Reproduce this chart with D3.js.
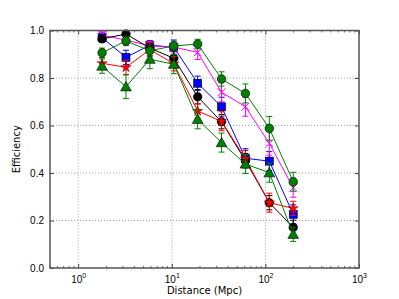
<!DOCTYPE html>
<meta charset="utf-8">
<html>
<style>
  body { margin: 0; background: #fff; font-family: "DejaVu Sans", sans-serif; }
  .grid line { stroke: #888; stroke-dasharray: 1,2; stroke-width: 0.8; }
  .tick text { font-size: 10px; fill: #000; }
</style>
<body>
<div id="plot"></div>
<script src="https://d3js.org/d3.v7.js"></script>
<script>
// distances (Mpc)
const distance = [1.8, 3.24, 5.83, 10.5, 18.9, 34.0, 61.2, 110.2, 198.4];

// efficiency per series
const red_eff     = [0.862, 0.845, 0.920, 0.860, 0.661, 0.618, 0.460, 0.275, 0.251];
const black_eff   = [0.965, 0.985, 0.926, 0.883, 0.721, 0.616, 0.452, 0.275, 0.171];
const blue_eff    = [0.970, 0.887, 0.938, 0.930, 0.778, 0.679, 0.462, 0.450, 0.226];
const magenta_eff = [0.980, 0.960, 0.935, 0.930, 0.908, 0.740, 0.679, 0.525, 0.338];
const tri_eff     = [0.850, 0.763, 0.879, 0.858, 0.626, 0.528, 0.438, 0.401, 0.142];
const circ_eff    = [0.906, 0.956, 0.915, 0.935, 0.943, 0.796, 0.735, 0.588, 0.363];

// error bar half-widths
const red_err     = [0.025, 0.03, 0.03, 0.03, 0.03, 0.04, 0.035, 0.04, 0.03];
const black_err   = [0.01, 0.01, 0.02, 0.03, 0.03, 0.03, 0.03, 0.03, 0.03];
const blue_err    = [0.02, 0.03, 0.02, 0.03, 0.03, 0.04, 0.04, 0.04, 0.04];
const magenta_err = [0.015, 0.02, 0.02, 0.02, 0.03, 0.04, 0.04, 0.05, 0.04];
const tri_err     = [0.03, 0.05, 0.04, 0.04, 0.04, 0.04, 0.04, 0.04, 0.03];
const circ_err    = [0.02, 0.02, 0.02, 0.02, 0.02, 0.03, 0.04, 0.05, 0.04];

const y_ticks = [0.0, 0.2, 0.4, 0.6, 0.8, 1.0];
const x_ticks = [1, 10, 100, 1000];

const series = [
  {colour: "#0000ff", marker: "square", eff: blue_eff, err: blue_err},
  {colour: "#ff00ff", marker: "cross", eff: magenta_eff, err: magenta_err},
  {colour: "#000000", marker: "circle", eff: black_eff, err: black_err},
  {colour: "#ff0000", marker: "star", eff: red_eff, err: red_err},
  {colour: "#008000", marker: "triangle", eff: tri_eff, err: tri_err},
  {colour: "#008000", marker: "circle", eff: circ_eff, err: circ_err}
];

const W = 399, H = 299;
const margin = {top: 30.5, right: 40, bottom: 31, left: 50};
const width = W - margin.left - margin.right,
      height = H - margin.top - margin.bottom;

const svg = d3.select("#plot").append("svg")
  .attr("width", W).attr("height", H)
  .append("g")
  .attr("transform", "translate(" + margin.left + "," + margin.top + ")");

const x = d3.scaleLog().domain([0.5, 1000]).range([0, width]);
const y = d3.scaleLinear().domain([0, 1]).range([height, 0]);

// grid
const grid = svg.append("g").attr("class", "grid");
grid.selectAll(".gx").data(x_ticks.slice(0, 3)).join("line")
  .attr("x1", d => x(d)).attr("x2", d => x(d)).attr("y1", 0).attr("y2", height);
grid.selectAll(".gy").data(y_ticks.slice(1, 5)).join("line")
  .attr("x1", 0).attr("x2", width).attr("y1", d => y(d)).attr("y2", d => y(d));

// minor x ticks
const minor = [];
[0.1, 1, 10, 100].forEach(dec => { for (let k = 2; k <= 9; k++) { const v = dec * k; if (v >= 0.5 && v < 1000) minor.push(v); } });
const tickCol = "#444";
svg.append("g").selectAll("line").data(minor).join("line")
  .attr("x1", d => x(d)).attr("x2", d => x(d)).attr("y1", height).attr("y2", height - 2)
  .attr("stroke", tickCol).attr("stroke-width", 0.8);
svg.append("g").selectAll("line").data(minor).join("line")
  .attr("x1", d => x(d)).attr("x2", d => x(d)).attr("y1", 0).attr("y2", 2)
  .attr("stroke", tickCol).attr("stroke-width", 0.8);

// major ticks (inside, all sides)
const xa = svg.append("g").attr("transform", "translate(0," + height + ")")
  .call(d3.axisBottom(x).tickValues(x_ticks).tickSize(-4).tickFormat(""));
xa.select(".domain").remove();
xa.selectAll("text").remove();
xa.selectAll("line").attr("stroke", tickCol);
xa.selectAll(".tick").append("text")
  .attr("y", 15).attr("text-anchor", "middle").attr("fill", "#000").style("font-size", "10px")
  .each(function(d) {
    const t = d3.select(this);
    t.append("tspan").text("10");
    t.append("tspan").attr("dy", -5).style("font-size", "7px").text(Math.round(Math.log10(d)));
  });
const xt = svg.append("g").call(d3.axisTop(x).tickValues(x_ticks).tickSize(-4).tickFormat(""));
xt.select(".domain").remove();
xt.selectAll("text").remove();
xt.selectAll("line").attr("stroke", tickCol);

const ya = svg.append("g").call(d3.axisLeft(y).tickValues(y_ticks).tickSize(-4).tickPadding(6).tickFormat(d3.format(".1f")));
ya.select(".domain").remove();
ya.selectAll("line").attr("stroke", tickCol);
const yr = svg.append("g").attr("transform", "translate(" + width + ",0)")
  .call(d3.axisRight(y).tickValues(y_ticks).tickSize(-4).tickFormat(""));
yr.select(".domain").remove();
yr.selectAll("text").remove();
yr.selectAll("line").attr("stroke", tickCol);

// series
const line = d3.line().x(d => x(d.x)).y(d => y(d.y));
const star = d3.symbol().type(d3.symbolStar).size(32);
const tri = d3.symbol().type(d3.symbolTriangle).size(50);

series.forEach(s => {
  const pts = distance.map((d, i) => ({x: d, y: s.eff[i], e: s.err[i]}));
  const g = svg.append("g");
  g.append("path").datum(pts).attr("d", line)
    .attr("fill", "none").attr("stroke", s.colour).attr("stroke-width", 1);
  // error bars
  const eb = g.selectAll(".eb").data(pts).join("g").attr("stroke", s.colour).attr("stroke-width", 1);
  eb.append("line").attr("x1", d => x(d.x)).attr("x2", d => x(d.x))
    .attr("y1", d => y(d.y - d.e)).attr("y2", d => y(d.y + d.e));
  eb.append("line").attr("x1", d => x(d.x) - 3).attr("x2", d => x(d.x) + 3)
    .attr("y1", d => y(d.y - d.e)).attr("y2", d => y(d.y - d.e));
  eb.append("line").attr("x1", d => x(d.x) - 3).attr("x2", d => x(d.x) + 3)
    .attr("y1", d => y(d.y + d.e)).attr("y2", d => y(d.y + d.e));
  // markers
  const m = g.selectAll(".m").data(pts).join("g")
    .attr("transform", d => "translate(" + x(d.x) + "," + y(d.y) + ")");
  if (s.marker === "circle") {
    m.append("circle").attr("r", 4.3).attr("fill", s.colour).attr("stroke", "#000").attr("stroke-width", 0.6);
  } else if (s.marker === "square") {
    m.append("rect").attr("x", -4).attr("y", -4).attr("width", 8).attr("height", 8)
      .attr("fill", s.colour).attr("stroke", "#000").attr("stroke-width", 0.6);
  } else if (s.marker === "triangle") {
    m.append("path").attr("d", tri).attr("transform", "translate(0,1)")
      .attr("fill", s.colour).attr("stroke", "#000").attr("stroke-width", 0.6);
  } else if (s.marker === "star") {
    m.append("path").attr("d", star).attr("fill", s.colour).attr("stroke", "#800000").attr("stroke-width", 0.5);
  } else if (s.marker === "cross") {
    m.append("path").attr("d", "M-4,-4L4,4M-4,4L4,-4").attr("stroke", s.colour).attr("stroke-width", 1);
  }
});

// frame
svg.append("rect").attr("x", 0).attr("y", 0).attr("width", width).attr("height", height)
  .attr("fill", "none").attr("stroke", "#555").attr("stroke-width", 1.5);

// labels
svg.append("text").attr("x", width / 2).attr("y", height + 26)
  .attr("text-anchor", "middle").style("font-size", "10px").text("Distance (Mpc)");
svg.append("text").attr("transform", "rotate(-90)")
  .attr("x", -height / 2).attr("y", -30)
  .attr("text-anchor", "middle").style("font-size", "10px").text("Efficiency");
</script>
</body>
</html>
